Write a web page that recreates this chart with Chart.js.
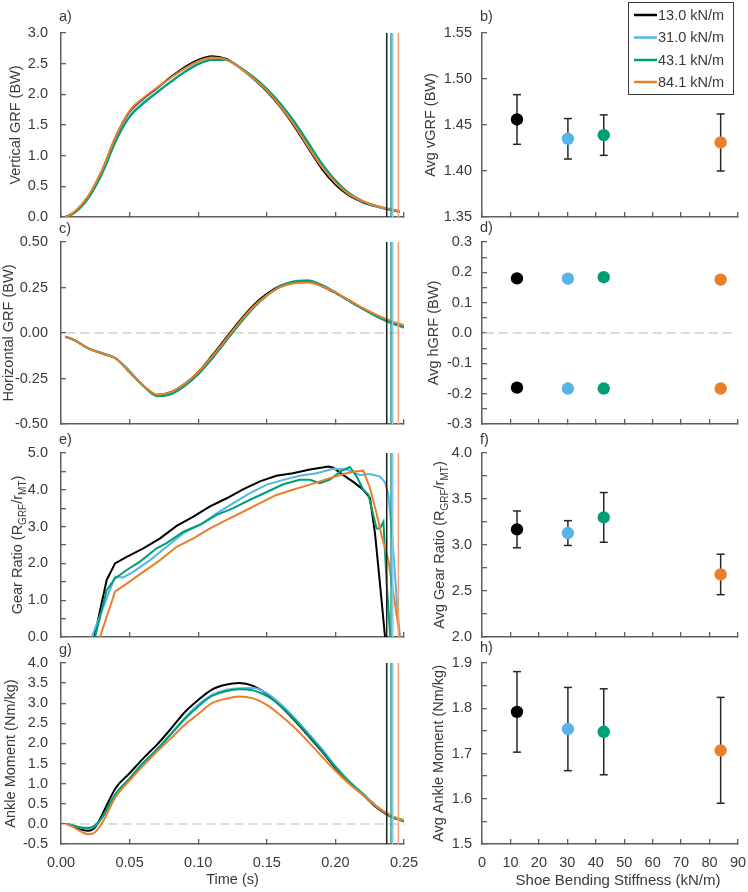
<!DOCTYPE html>
<html><head><meta charset="utf-8"><title>Shoe bending stiffness</title>
<script src="https://cdn.jsdelivr.net/npm/chart.js@4.4.1/dist/chart.umd.min.js"></script>
<style>html,body{margin:0;padding:0;background:#fff}body{position:relative;width:748px;height:892px;overflow:hidden}</style>
</head><body>
<script>
// ================= DATA =================
const seriesNames = ['13.0 kN/m', '31.0 kN/m', '43.1 kN/m', '84.1 kN/m'];
const stiffness = [12.3, 30.2, 42.8, 83.9];
const contactEnd = [0.2374, 0.2418, 0.2405, 0.2459];

// a) vertical GRF
const timeA = [0.003,0.01,0.02,0.03,0.04,0.05,0.06,0.07,0.08,0.09,0.10,0.11,0.12,0.13,0.14,0.15,0.16,0.17,0.18,0.19,0.20,0.21,0.22,0.23,0.24,0.247];
const vgrf13 = [0,0.08,0.33,0.76,1.31,1.72,1.93,2.10,2.28,2.44,2.56,2.62,2.58,2.44,2.26,2.05,1.79,1.48,1.13,0.79,0.53,0.35,0.24,0.17,0.12,0.09];
const vgrf31 = [0,0.07,0.31,0.72,1.25,1.65,1.87,2.04,2.21,2.37,2.50,2.57,2.56,2.44,2.27,2.07,1.82,1.52,1.18,0.84,0.57,0.37,0.25,0.17,0.12,0.08];
const vgrf43 = [0,0.07,0.31,0.71,1.24,1.63,1.85,2.03,2.20,2.36,2.49,2.56,2.56,2.45,2.29,2.09,1.85,1.56,1.22,0.88,0.60,0.39,0.26,0.18,0.12,0.08];
const vgrf84 = [0,0.09,0.35,0.77,1.32,1.73,1.94,2.11,2.27,2.42,2.54,2.60,2.57,2.44,2.26,2.06,1.80,1.50,1.15,0.82,0.56,0.37,0.26,0.18,0.13,0.10];

// c) horizontal GRF
const timeC = [0.003,0.01,0.02,0.03,0.04,0.05,0.06,0.07,0.08,0.09,0.10,0.11,0.12,0.13,0.14,0.15,0.16,0.17,0.18,0.19,0.20,0.21,0.22,0.23,0.24,0.25];
const hgrf13 = [-0.02,-0.04,-0.085,-0.113,-0.14,-0.215,-0.29,-0.34,-0.325,-0.28,-0.215,-0.125,-0.03,0.065,0.15,0.215,0.26,0.282,0.285,0.258,0.22,0.176,0.133,0.093,0.06,0.033];
const hgrf31 = [-0.02,-0.04,-0.085,-0.11,-0.14,-0.21,-0.29,-0.345,-0.335,-0.29,-0.225,-0.14,-0.045,0.05,0.138,0.207,0.258,0.285,0.29,0.265,0.225,0.178,0.133,0.09,0.055,0.028];
const hgrf43 = [-0.02,-0.04,-0.085,-0.112,-0.14,-0.21,-0.29,-0.347,-0.337,-0.292,-0.227,-0.142,-0.047,0.048,0.136,0.205,0.256,0.283,0.287,0.263,0.223,0.177,0.133,0.092,0.058,0.032];
const hgrf84 = [-0.02,-0.04,-0.085,-0.113,-0.14,-0.213,-0.288,-0.338,-0.325,-0.28,-0.215,-0.13,-0.037,0.058,0.143,0.207,0.252,0.273,0.277,0.257,0.222,0.18,0.138,0.10,0.068,0.042];

// e) gear ratio
const gearT13 = [0.0243,0.0333,0.0394,0.0479,0.0600,0.0722,0.0843,0.0965,0.1086,0.1208,0.1330,0.1450,0.1570,0.1690,0.1815,0.1950,0.1985,0.2058,0.2143,0.2203,0.2252,0.2289,0.2325,0.2362];
const gearV13 = [0,1.55,2.00,2.18,2.41,2.68,3.02,3.27,3.55,3.77,4.02,4.23,4.38,4.45,4.55,4.63,4.60,4.40,4.18,4.00,3.78,2.80,1.44,0];
const gearT31 = [0.0224,0.0394,0.0454,0.0527,0.0649,0.0770,0.0892,0.1013,0.1135,0.1256,0.1378,0.1500,0.1620,0.1740,0.1864,0.1985,0.2080,0.2180,0.2252,0.2325,0.2362,0.2386,0.2410,0.2447,0.2470];
const gearV31 = [0,1.64,1.62,1.77,2.09,2.45,2.82,3.05,3.36,3.64,3.91,4.14,4.27,4.38,4.45,4.57,4.55,4.40,4.43,4.36,4.20,3.87,2.95,1.03,0];
const gearT43 = [0.0248,0.0333,0.0394,0.0479,0.0576,0.0697,0.0770,0.0892,0.1013,0.1135,0.1256,0.1378,0.1500,0.1620,0.1740,0.1815,0.1888,0.1960,0.2046,0.2106,0.2155,0.2203,0.2240,0.2300,0.2325,0.2350,0.2374,0.2400];
const gearV43 = [0,1.27,1.59,1.82,2.05,2.41,2.55,2.86,3.05,3.32,3.50,3.73,3.94,4.15,4.27,4.27,4.18,4.28,4.52,4.62,4.36,4.00,3.87,2.95,2.95,3.13,1.44,0];
const gearT84 = [0.0284,0.0394,0.0479,0.0600,0.0722,0.0843,0.0965,0.1086,0.1208,0.1330,0.1450,0.1570,0.1690,0.1815,0.1936,0.2058,0.2143,0.2203,0.2252,0.2300,0.2337,0.2386,0.2434,0.2470];
const gearV84 = [0,1.23,1.45,1.77,2.09,2.45,2.68,2.95,3.18,3.41,3.64,3.86,4.00,4.14,4.29,4.43,4.50,4.52,4.05,3.36,2.75,2.09,0.91,0];

// g) ankle moment
const timeG = [0.004,0.01,0.015,0.02,0.025,0.03,0.04,0.05,0.06,0.07,0.08,0.09,0.10,0.11,0.12,0.13,0.14,0.15,0.16,0.17,0.18,0.19,0.20,0.21,0.22,0.23,0.24,0.25];
const ankle13 = [0,-0.07,-0.14,-0.17,-0.08,0.23,0.90,1.26,1.63,1.97,2.36,2.77,3.08,3.34,3.46,3.50,3.43,3.23,2.93,2.58,2.20,1.81,1.39,1.02,0.73,0.41,0.19,0.07];
const ankle31 = [0,-0.05,-0.10,-0.12,-0.05,0.15,0.76,1.13,1.52,1.86,2.24,2.63,2.96,3.21,3.33,3.37,3.38,3.25,2.98,2.64,2.26,1.87,1.44,1.07,0.76,0.44,0.21,0.06];
const ankle43 = [0,-0.05,-0.09,-0.10,-0.03,0.16,0.75,1.13,1.52,1.85,2.22,2.60,2.92,3.18,3.30,3.35,3.32,3.18,2.93,2.60,2.22,1.83,1.41,1.04,0.74,0.43,0.20,0.06];
const ankle84 = [0,-0.10,-0.20,-0.26,-0.20,0.02,0.68,1.08,1.45,1.80,2.12,2.46,2.73,3.00,3.11,3.17,3.12,2.96,2.70,2.40,2.05,1.68,1.32,1.00,0.72,0.43,0.22,0.09];

// right column averages
const avgVgrf = [1.456, 1.435, 1.439, 1.431];
const avgVgrfErr = [0.027, 0.022, 0.022, 0.031];
const avgHgrfPos = [0.180, 0.179, 0.184, 0.176];
const avgHgrfNeg = [-0.180, -0.183, -0.183, -0.183];
const avgGear = [3.17, 3.13, 3.30, 2.68];
const avgGearErr = [0.20, 0.135, 0.27, 0.22];
const avgAnkle = [1.792, 1.754, 1.748, 1.707];
const avgAnkleErr = [0.089, 0.092, 0.095, 0.117];

// tick values & labels
const timeTicks = [0, 0.05, 0.10, 0.15, 0.20, 0.25];
const timeTickLabels = ['0.00', '0.05', '0.10', '0.15', '0.20', '0.25'];
const stiffTicks = [0, 10, 20, 30, 40, 50, 60, 70, 80, 90];
const stiffTickLabels = ['0', '10', '20', '30', '40', '50', '60', '70', '80', '90'];
const vgrfTicks = [0, 0.5, 1, 1.5, 2, 2.5, 3];
const vgrfTickLabels = ['0.0', '0.5', '1.0', '1.5', '2.0', '2.5', '3.0'];
const hgrfTicks = [-0.5, -0.25, 0, 0.25, 0.5];
const hgrfTickLabels = ['-0.50', '-0.25', '0.00', '0.25', '0.50'];
const gearTicks = [0, 0.5, 1, 1.5, 2, 2.5, 3, 3.5, 4, 4.5, 5];
const gearTickLabels = ['0.0', '', '1.0', '', '2.0', '', '3.0', '', '4.0', '', '5.0'];
const ankleTicks = [-0.5, 0, 0.5, 1, 1.5, 2, 2.5, 3, 3.5, 4];
const ankleTickLabels = ['-0.5', '0.0', '0.5', '1.0', '1.5', '2.0', '2.5', '3.0', '3.5', '4.0'];
const avgVTicks = [1.35, 1.40, 1.45, 1.50, 1.55];
const avgVTickLabels = ['1.35', '1.40', '1.45', '1.50', '1.55'];
const avgHTicks = [-0.3, -0.25, -0.2, -0.15, -0.1, -0.05, 0, 0.05, 0.1, 0.15, 0.2, 0.25, 0.3];
const avgHTickLabels = ['-0.3', '', '-0.2', '', '-0.1', '', '0.0', '', '0.1', '', '0.2', '', '0.3'];
const avgGearTicks = [2, 2.25, 2.5, 2.75, 3, 3.25, 3.5, 3.75, 4];
const avgGearTickLabels = ['2.0', '', '2.5', '', '3.0', '', '3.5', '', '4.0'];
const avgAnkleTicks = [1.5, 1.55, 1.6, 1.65, 1.7, 1.75, 1.8, 1.85, 1.9];
const avgAnkleTickLabels = ['1.5', '', '1.6', '', '1.7', '', '1.8', '', '1.9'];

// ================= STYLE / LAYOUT =================
const FONT = '"Liberation Sans", Arial, Helvetica, sans-serif';
const AX = '#5f5f5f', TX = '#3a3a3a';
const COLORS = ['#000000', '#56B4E9', '#009E73', '#E8802A'];
const VCOLORS = ['#1e1e1e', '#86c9ef', '#2ca57f', '#f3a27c'];
const COL = {
  left: {x: 0, w: 420, yw: 61, padR: 16, labPad: 18},
  right: {x: 420, w: 328, yw: 62, padR: 10, labPad: 15}
};
const ROWS = [
  {y: 0, h: 232, padT: 33, xh: 15},
  {y: 220, h: 216, padT: 22, xh: 12},
  {y: 426, h: 223, padT: 27, xh: 12},
  {y: 639, h: 253, padT: 24, xh: 48}
];

function makeCanvas(col, row) {
  const c = document.createElement('canvas');
  c.width = col.w; c.height = row.h;
  c.style.cssText = 'position:absolute;left:' + col.x + 'px;top:' + row.y + 'px;width:' + col.w + 'px;height:' + row.h + 'px';
  document.body.appendChild(c);
  return c;
}
const tickFont = () => ({family: FONT, size: 14.5});

function xAxis(min, max, ticks, labels, show, xh, title) {
  return {
    type: 'linear', position: 'bottom', min: min, max: max,
    afterBuildTicks: s => { s.ticks = ticks.map(v => ({value: v})); },
    afterFit: s => { s.height = xh; s.paddingLeft = 0; s.paddingRight = 0; s.paddingTop = 0; s.paddingBottom = 0; },
    grid: {drawOnChartArea: false, drawTicks: true, tickLength: -5, color: AX, lineWidth: 1.3},
    border: {display: true, color: AX, width: 1.5},
    ticks: {display: show, autoSkip: false, maxRotation: 0, padding: 15.3, color: TX, font: tickFont(), callback: (v, i) => labels[i]},
    title: title ? {display: true, text: title, color: TX, font: {family: FONT, size: 14.5}, padding: {top: 0, bottom: 3.3}} : {display: false}
  };
}
function yAxis(min, max, ticks, labels, col, title, titlePad) {
  return {
    type: 'linear', position: 'left', min: min, max: max,
    afterBuildTicks: s => { s.ticks = ticks.map(v => ({value: v})); },
    afterFit: s => { s.width = col.yw; s.paddingTop = 0; s.paddingBottom = 0; s.paddingLeft = 0; s.paddingRight = 0; },
    grid: {drawOnChartArea: false, drawTicks: true, tickLength: -5, color: AX, lineWidth: 1.3},
    border: {display: true, color: AX, width: 1.5},
    ticks: {autoSkip: false, padding: col.labPad, color: TX, font: tickFont(), callback: (v, i) => labels[i]},
    title: title ? {display: true, text: title, color: TX, font: {family: FONT, size: 14.5}, padding: {top: titlePad, bottom: 0}} : {display: false}
  };
}

const pts = (xs, ys) => xs.map((x, i) => ({x: x, y: ys[i]}));
function curve(xs, ys, k, smooth) {
  return {data: pts(xs, ys), showLine: true, borderColor: COLORS[k], borderWidth: 2, pointRadius: 0,
    fill: false, tension: 0, cubicInterpolationMode: smooth ? 'monotone' : 'default', order: 4 - k};
}
function vlines(y0, y1) {
  return contactEnd.map((t, k) => ({data: [{x: t, y: y0}, {x: t, y: y1}], showLine: true,
    borderColor: VCOLORS[k], borderWidth: 1.5, pointRadius: 0, order: 0}));
}
function zeroLine(x0, x1) {
  return {data: [{x: x0, y: 0}, {x: x1, y: 0}], showLine: true, borderColor: '#cfcfcf', borderWidth: 1.5,
    borderDash: [9, 5], pointRadius: 0, order: 20};
}
function dots(vals, k) {
  return {data: [{x: stiffness[k], y: vals[k]}], showLine: false, pointRadius: 6.2,
    pointBackgroundColor: COLORS[k], pointBorderColor: COLORS[k], pointBorderWidth: 0, order: 0};
}
function errBar(vals, errs, k) {
  return {data: [{x: stiffness[k], y: vals[k] - errs[k]}, {x: stiffness[k], y: vals[k] + errs[k]}], showLine: true,
    borderColor: '#262626', borderWidth: 1.5, pointStyle: 'line', pointRadius: 4,
    pointBorderColor: '#262626', pointBorderWidth: 1.5, order: 1};
}

function panelPlugin(label, dy, extra) {
  return {id: 'panelText', afterDraw(chart) {
    const ctx = chart.ctx, a = chart.chartArea;
    ctx.save();
    ctx.fillStyle = TX; ctx.font = '14.5px ' + FONT; ctx.textBaseline = 'middle'; ctx.textAlign = 'left';
    ctx.fillText(label, a.left - 2, a.top - dy);
    if (extra) extra(ctx, a, chart);
    ctx.restore();
  }};
}
function gearTitle(prefix, baseX) {
  return function (ctx, a) {
    const parts = [[prefix + 'Gear Ratio (R', 14.5, 0], ['GRF', 10, 3.5], ['/r', 14.5, 0], ['MT', 10, 3.5], [')', 14.5, 0]];
    let total = 0;
    parts.forEach(p => { ctx.font = p[1] + 'px ' + FONT; total += ctx.measureText(p[0]).width; });
    ctx.save();
    ctx.translate(baseX, (a.top + a.bottom) / 2);
    ctx.rotate(-Math.PI / 2);
    ctx.textBaseline = 'alphabetic'; ctx.textAlign = 'left'; ctx.fillStyle = TX;
    let x = -total / 2;
    parts.forEach(p => { ctx.font = p[1] + 'px ' + FONT; ctx.fillText(p[0], x, p[2]); x += ctx.measureText(p[0]).width; });
    ctx.restore();
  };
}

function build(col, row, datasets, x, y, plugins) {
  const cv = makeCanvas(col, row);
  return new Chart(cv, {
    type: 'scatter',
    data: {datasets: datasets},
    options: {
      responsive: false, animation: false, events: [],
      layout: {padding: {top: row.padT, right: col.padR, left: 0, bottom: 0}},
      plugins: {legend: {display: false}, tooltip: {enabled: false}, title: {display: false}},
      scales: {x: x, y: y}
    },
    plugins: plugins
  });
}

// ================= PANELS =================
// a)
build(COL.left, ROWS[0],
  [curve(timeA, vgrf13, 0, true), curve(timeA, vgrf31, 1, true), curve(timeA, vgrf43, 2, true), curve(timeA, vgrf84, 3, true)].concat(vlines(0, 3)),
  xAxis(0, 0.25, timeTicks, timeTickLabels, false, ROWS[0].xh),
  yAxis(0, 3, vgrfTicks, vgrfTickLabels, COL.left, 'Vertical GRF (BW)', 7.6),
  [panelPlugin('a)', 16)]);

// b)
const legendPlugin = {id: 'legendBox', afterDraw(chart) {
  const ctx = chart.ctx;
  ctx.save();
  ctx.strokeStyle = '#3a3a3a'; ctx.lineWidth = 1;
  ctx.strokeRect(208.5, 2.5, 105, 92);
  const rowsY = [15, 37.5, 60, 82];
  seriesNames.forEach((n, k) => {
    ctx.strokeStyle = COLORS[k]; ctx.lineWidth = 2.5;
    ctx.beginPath(); ctx.moveTo(214, rowsY[k]); ctx.lineTo(237, rowsY[k]); ctx.stroke();
    ctx.fillStyle = TX; ctx.font = '14.5px ' + FONT; ctx.textBaseline = 'middle'; ctx.textAlign = 'left';
    ctx.fillText(n, 238, rowsY[k] + 0.5);
  });
  ctx.restore();
}};
build(COL.right, ROWS[0],
  [0, 1, 2, 3].map(k => errBar(avgVgrf, avgVgrfErr, k)).concat([0, 1, 2, 3].map(k => dots(avgVgrf, k))),
  xAxis(0, 90, stiffTicks, stiffTickLabels, false, ROWS[0].xh),
  yAxis(1.35, 1.55, avgVTicks, avgVTickLabels, COL.right, 'Avg vGRF (BW)', 2.6),
  [panelPlugin('b)', 16), legendPlugin]);

// c)
build(COL.left, ROWS[1],
  [zeroLine(0.004, 0.25), curve(timeC, hgrf13, 0, true), curve(timeC, hgrf31, 1, true), curve(timeC, hgrf43, 2, true), curve(timeC, hgrf84, 3, true)].concat(vlines(-0.5, 0.5)),
  xAxis(0, 0.25, timeTicks, timeTickLabels, false, ROWS[1].xh),
  yAxis(-0.5, 0.5, hgrfTicks, hgrfTickLabels, COL.left, 'Horizontal GRF (BW)', 0.1),
  [panelPlugin('c)', 13)]);

// d)
build(COL.right, ROWS[1],
  [zeroLine(1, 88)].concat([0, 1, 2, 3].map(k => dots(avgHgrfPos, k)), [0, 1, 2, 3].map(k => dots(avgHgrfNeg, k))),
  xAxis(0, 90, stiffTicks, stiffTickLabels, false, ROWS[1].xh),
  yAxis(-0.3, 0.3, avgHTicks, avgHTickLabels, COL.right, 'Avg hGRF (BW)', 4.9),
  [panelPlugin('d)', 14)]);

// e)
build(COL.left, ROWS[2],
  [curve(gearT13, gearV13, 0, false), curve(gearT31, gearV31, 1, false), curve(gearT43, gearV43, 2, false), curve(gearT84, gearV84, 3, false)].concat(vlines(0, 5)),
  xAxis(0, 0.25, timeTicks, timeTickLabels, false, ROWS[2].xh),
  yAxis(0, 5, gearTicks, gearTickLabels, COL.left, null, 0),
  [panelPlugin('e)', 13, gearTitle('', 22.3))]);

// f)
build(COL.right, ROWS[2],
  [0, 1, 2, 3].map(k => errBar(avgGear, avgGearErr, k)).concat([0, 1, 2, 3].map(k => dots(avgGear, k))),
  xAxis(0, 90, stiffTicks, stiffTickLabels, false, ROWS[2].xh),
  yAxis(2, 4, avgGearTicks, avgGearTickLabels, COL.right, null, 0),
  [panelPlugin('f)', 13, gearTitle('Avg ', 24.4))]);

// g)
build(COL.left, ROWS[3],
  [zeroLine(0.004, 0.25), curve(timeG, ankle13, 0, true), curve(timeG, ankle31, 1, true), curve(timeG, ankle43, 2, true), curve(timeG, ankle84, 3, true)].concat(vlines(-0.5, 4)),
  xAxis(0, 0.25, timeTicks, timeTickLabels, true, ROWS[3].xh, 'Time (s)'),
  yAxis(-0.5, 4, ankleTicks, ankleTickLabels, COL.left, 'Ankle Moment (Nm/kg)', 2.6),
  [panelPlugin('g)', 13)]);

// h)
build(COL.right, ROWS[3],
  [0, 1, 2, 3].map(k => errBar(avgAnkle, avgAnkleErr, k)).concat([0, 1, 2, 3].map(k => dots(avgAnkle, k))),
  xAxis(0, 90, stiffTicks, stiffTickLabels, true, ROWS[3].xh),
  yAxis(1.5, 1.9, avgAnkleTicks, avgAnkleTickLabels, COL.right, 'Avg Ankle Moment (Nm/kg)', 9.9),
  [panelPlugin('h)', 15, function (ctx) {
    ctx.font = '15px ' + FONT; ctx.textAlign = 'center'; ctx.textBaseline = 'middle'; ctx.fillStyle = TX;
    ctx.fillText('Shoe Bending Stiffness (kN/m)', 198, 242);
  })]);
</script>
</body></html>
